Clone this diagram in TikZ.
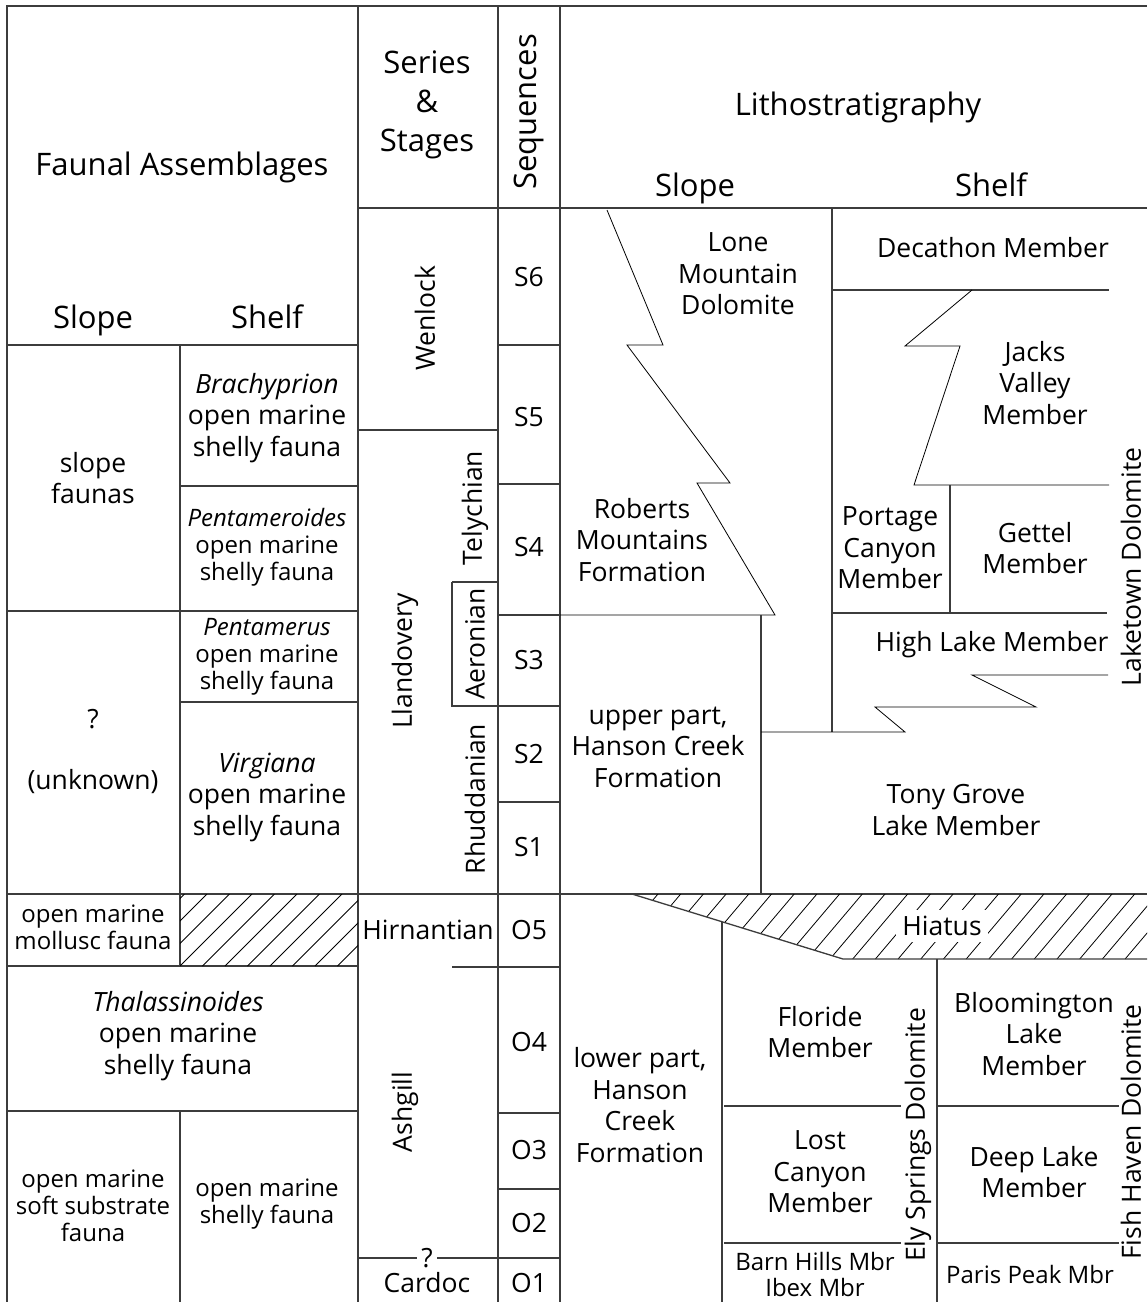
\documentclass[tikz,border=0pt]{standalone}
\usepackage{fontspec}
\setmainfont{Open Sans}
\usepackage{tikz}
\definecolor{trait}{RGB}{60,60,60}
\newcommand{\ftete}{\fontsize{15.5}{19.5}\selectfont}
\newcommand{\fcorps}{\fontsize{13.25}{15.75}\selectfont}
\newcommand{\fpetit}{\fontsize{12}{13.5}\selectfont}

\begin{document}
\begin{tikzpicture}[x=0.5pt,y=-0.5pt,
    grille/.style={draw=trait, line width=0.65pt},
    fin/.style={draw=black, line width=0.4pt},
    tete/.style={font=\ftete, align=center, inner sep=0pt},
    corps/.style={font=\fcorps, align=center, inner sep=0pt},
    petit/.style={font=\fpetit, align=center, inner sep=0pt}]
  \useasboundingbox[fill=white] (0,0) rectangle (1147,1302);
  % cadre et colonnes
  \draw[grille] (7,1302) -- (7,6) -- (1147,6);
  \draw[grille] (358,6) -- (358,1302);
  \draw[grille] (498,6) -- (498,1302);
  \draw[grille] (560,6) -- (560,1302);
  \draw[grille] (358,208) -- (1147,208);
  \draw[grille] (7,894) -- (1147,894);
  % faunes
  \draw[grille] (7,345) -- (358,345);
  \draw[grille] (180,345) -- (180,966);
  \draw[grille] (180,1111) -- (180,1302);
  \draw[grille] (180,486) -- (358,486);
  \draw[grille] (7,611) -- (358,611);
  \draw[grille] (180,702) -- (358,702);
  \draw[grille] (7,966) -- (358,966);
  \draw[grille] (7,1111) -- (358,1111);
  \begin{scope}
    \clip (180,894) rectangle (358,966);
    \foreach \a in {90,112.5,...,360}
      \draw[fin] (\a,966) -- ++(72,-72);
  \end{scope}
  % series et etages
  \draw[grille] (358,430) -- (498,430);
  \draw[grille] (452,582) -- (498,582);
  \draw[grille] (452,582) -- (452,706) -- (498,706);
  \draw[grille] (452,967) -- (560,967);
  \draw[grille] (358,1258) -- (560,1258);
  % sequences
  \foreach \y in {345,484,615,802,1113,1189}
    \draw[grille] (498,\y) -- (560,\y);
  \draw[grille] (498,706) -- (560,706);
  % lithostratigraphie, Silurien
  \draw[grille] (832,208) -- (832,732);
  \draw[fin] (607,210) -- (663,345) -- (627,345) -- (730,483) -- (697,483) -- (775,615) -- (560,615);
  \draw[grille] (761,615) -- (761,894);
  \draw[grille] (832,290) -- (1109,290);
  \draw[fin] (972,290) -- (905,346) -- (960,346) -- (914,485) -- (1109,485);
  \draw[grille] (950,485) -- (950,613);
  \draw[grille] (832,613) -- (1107,613);
  \draw[fin] (1108,675) -- (972,675) -- (1036,707) -- (875,707) -- (905,732) -- (761,732);
  % lithostratigraphie, Ordovicien
  \begin{scope}
    \clip (632,894) -- (1147,894) -- (1147,959) -- (843,959) -- cycle;
    \foreach \a in {603,625.7,...,1170}
      \draw[fin] (\a,959) -- ++(55,-65);
  \end{scope}
  \draw[grille] (632,894) -- (843,959) -- (1147,959);
  \draw[grille] (722,922) -- (722,1302);
  \draw[grille] (937,959) -- (937,1302);
  \draw[grille] (724,1106) -- (901,1106);
  \draw[grille] (724,1243) -- (901,1243);
  \draw[grille] (938,1106) -- (1119,1106);
  \draw[grille] (938,1243) -- (1119,1243);

  % en-tetes
  \node[tete] (faune) at (182,167) {Faunal Assemblages};
  \node[tete, anchor=base] (fpente) at (93,328) {Slope};
  \node[tete, anchor=base] (fplate) at (267,328) {Shelf};
  \node[tete] (series) at (427,105) {Series\\\&\\Stages};
  \node[tete, rotate=90] (seq) at (529,112) {Sequences};
  \node[tete] (litho) at (858,107) {Lithostratigraphy};
  \node[tete, anchor=base] (lpente) at (695,196) {Slope};
  \node[tete, anchor=base] (lplate) at (991,196) {Shelf};

  % faunes
  \node[corps] (slopef) at (93,478) {slope\\faunas};
  \node[corps] (brachy) at (267,418) {\textit{Brachyprion}\\open marine\\shelly fauna};
  \node[petit] (pentoid) at (267,547) {\textit{Pentameroides}\\open marine\\shelly fauna};
  \node[petit] (pentam) at (267,657) {\textit{Pentamerus}\\open marine\\shelly fauna};
  \node[corps] (inconnu) at (93,719) {?};
  \node[corps] (unknown) at (93,782) {(unknown)};
  \node[corps] (virg) at (267,797) {\textit{Virgiana}\\open marine\\shelly fauna};
  \node[petit] (mollusc) at (93,927) {open marine\\mollusc fauna};
  \node[corps] (thal) at (178,1036) {\textit{Thalassinoides}\\open marine\\shelly fauna};
  \node[petit] (soft) at (93,1206) {open marine\\soft substrate\\fauna};
  \node[petit] (shelly) at (267,1204) {open marine\\shelly fauna};

  % series et etages
  \node[corps, rotate=90] (wenlock) at (425,318) {Wenlock};
  \node[corps, rotate=90] (llando) at (405,661) {Llandovery};
  \node[corps, rotate=90] (tely) at (475,508) {Telychian};
  \node[corps, rotate=90] (aero) at (475,644) {Aeronian};
  \node[corps, rotate=90] (rhud) at (475,799) {Rhuddanian};
  \node[corps] (hirn) at (428,930) {Hirnantian};
  \node[corps, rotate=90] (ashg) at (405,1112) {Ashgill};
  \node[corps, fill=white, inner sep=2pt] (doute) at (427,1258) {?};
  \node[corps] (cardoc) at (427,1283) {Cardoc};

  % sequences
  \foreach \s/\y in {S6/277,S5/417,S4/547,S3/660,S2/754,S1/847,O5/930,O4/1042,O3/1150,O2/1223,O1/1283}
    \node[corps] (seq\s) at (529,\y) {\s};

  % membres
  \node[corps] (lone) at (738,274) {Lone\\Mountain\\Dolomite};
  \node[corps] (deca) at (993,248) {Decathon Member};
  \node[corps] (jacks) at (1035,383) {Jacks\\Valley\\Member};
  \node[corps] (roberts) at (642,540) {Roberts\\Mountains\\Formation};
  \node[corps] (portage) at (890,548) {Portage\\Canyon\\Member};
  \node[corps] (gettel) at (1035,548) {Gettel\\Member};
  \node[corps] (highl) at (992,645) {High Lake Member};
  \node[corps, rotate=90] (laketown) at (1131,567) {Laketown Dolomite};
  \node[corps] (hansonup) at (658,747) {upper part,\\Hanson Creek\\Formation};
  \node[corps] (tony) at (956,810) {Tony Grove\\Lake Member};
  \node[corps, fill=white, inner sep=3pt] (hiatus) at (942,926) {Hiatus};
  \node[corps] (hansonlo) at (640,1105) {lower part,\\Hanson\\Creek\\Formation};
  \node[corps] (floride) at (820,1032) {Floride\\Member};
  \node[corps] (lost) at (820,1172) {Lost\\Canyon\\Member};
  \node[corps, rotate=90] (ely) at (918,1135) {Ely Springs Dolomite};
  \node[petit, font=\fontsize{12}{13}\selectfont] (barn) at (815,1274) {Barn Hills Mbr\\Ibex Mbr};
  \node[corps] (bloom) at (1034,1034) {Bloomington\\Lake\\Member};
  \node[corps] (deep) at (1034,1172) {Deep Lake\\Member};
  \node[petit] (paris) at (1030,1274) {Paris Peak Mbr};
  \node[corps, rotate=90] (fish) at (1131,1132) {Fish Haven Dolomite};
\end{tikzpicture}
\end{document}
